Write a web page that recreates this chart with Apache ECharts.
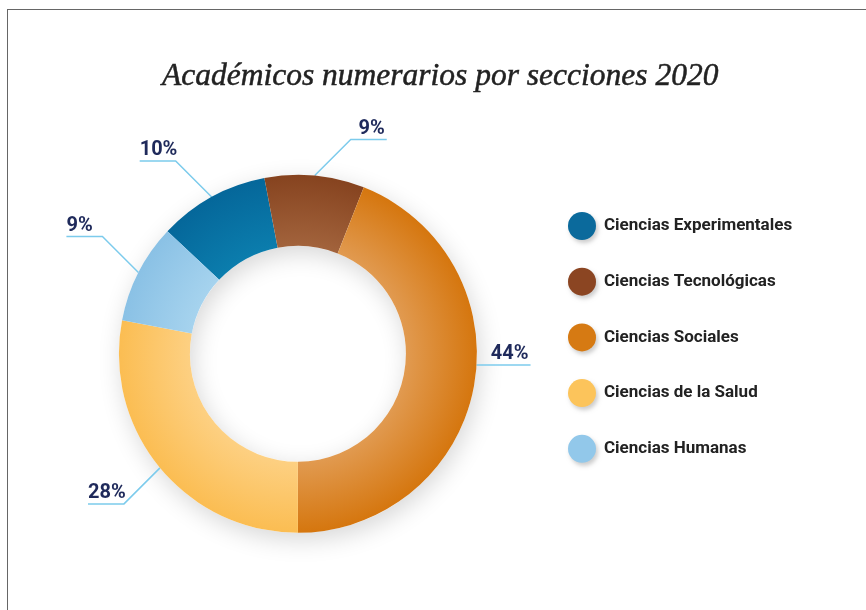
<!DOCTYPE html>
<html>
<head>
<meta charset="utf-8">
<script src="https://cdn.jsdelivr.net/npm/echarts@6/dist/echarts.min.js"></script>
<style>
  html, body { margin: 0; padding: 0; background: #fff; }
  #wrap { position: relative; width: 866px; height: 610px; overflow: hidden; }
  #main { width: 866px; height: 610px; }
  #frame { position: absolute; left: 7px; top: 9px; right: -10px; bottom: -10px;
           border-top: 1.5px solid #666; border-left: 1.5px solid #666; pointer-events: none; }
</style>
</head>
<body>
<div id="wrap">
  <div id="main"></div>
  <div id="frame"></div>
</div>
<script>
// datos
var secciones = ['Ciencias Experimentales', 'Ciencias Tecnológicas', 'Ciencias Sociales', 'Ciencias de la Salud', 'Ciencias Humanas'];
var porcentajes = [10, 9, 44, 28, 9];
var coloresLeyenda = ['#0b6a9c', '#8b4522', '#d67a13', '#fcc45b', '#92c8ea'];
var coloresInterior = ['#0b7dad', '#a2633c', '#e19a50', '#fdd082', '#a6d3ee'];
var coloresExterior = ['#05679a', '#86431f', '#d5760e', '#fbbd52', '#8ac1e5'];

var chartDom = document.getElementById('main');
var myChart = echarts.init(chartDom);

var centro = ['34.4%', '58%'];
var radio = [108, 179];
var cx = myChart.getWidth() * 0.344;
var cy = myChart.getHeight() * 0.58;

var datos = secciones.map(function (s, i) {
    return {
        name: s,
        value: porcentajes[i],
        itemStyle: {
            color: {
                type: 'radial', x: cx, y: cy, r: radio[1], global: true,
                colorStops: [
                    { offset: 0, color: coloresInterior[i] },
                    { offset: radio[0] / radio[1], color: coloresInterior[i] },
                    { offset: 1, color: coloresExterior[i] }
                ]
            }
        }
    };
});

// lineas de etiqueta: tramo a 45 grados y luego horizontal
function colocarEtiqueta(p) {
    var pts = p.labelLinePoints;
    if (!pts) return {};
    var a = pts[0], b = pts[1];
    var dx = b[0] - a[0], dy = b[1] - a[1];
    var len = Math.sqrt(dx * dx + dy * dy) || 1;
    var ux = dx / len, uy = dy / len;
    var sx = ux < 0 ? -1 : 1;
    var p0, p1, p2;
    if (Math.abs(uy) < 0.25) {
        var ccx = a[0] - ux * radio[1], ccy = a[1] - uy * radio[1];
        var y = ccy + (a[1] - ccy) / 3;
        var x = ccx + sx * Math.sqrt(radio[1] * radio[1] - (y - ccy) * (y - ccy));
        p0 = [x, y]; p1 = [x, y]; p2 = [x + sx * 54, y];
    } else {
        var sy = uy < 0 ? -1 : 1;
        p0 = a;
        p1 = [a[0] + sx * 36, a[1] + sy * 36];
        p2 = [p1[0] + sx * 36, p1[1]];
    }
    return {
        x: sx > 0 ? p2[0] - 2 : p2[0],
        y: p2[1] - 1,
        align: sx > 0 ? 'right' : 'left',
        verticalAlign: 'bottom',
        labelLinePoints: [p0, p1, p2]
    };
}

var option = {
    animation: false,
    title: {
        text: 'Académicos numerarios por secciones 2020',
        left: 157,
        top: 56,
        padding: 5,
        textStyle: {
            fontFamily: 'Liberation Serif',
            fontStyle: 'italic',
            fontWeight: 'normal',
            fontSize: 31.5,
            color: '#222',
            textBorderColor: '#222',
            textBorderWidth: 0.5
        }
    },
    legend: {
        orient: 'vertical',
        left: 568,
        top: 212,
        padding: 0,
        icon: 'circle',
        itemWidth: 28,
        itemHeight: 28,
        itemGap: 27.7,
        selectedMode: false,
        itemStyle: {
            shadowBlur: 4,
            shadowColor: 'rgba(0,0,0,0.2)',
            shadowOffsetX: 2,
            shadowOffsetY: 3
        },
        textStyle: {
            fontFamily: 'Roboto',
            fontWeight: 'bold',
            fontSize: 17,
            color: '#222',
            padding: [0, 0, 0, 3]
        },
        data: secciones.map(function (s, i) {
            return { name: s, itemStyle: { color: coloresLeyenda[i] } };
        })
    },
    series: [
        {
            // sombra del anillo
            type: 'pie',
            silent: true,
            center: centro,
            radius: radio,
            z: 1,
            label: { show: false },
            labelLine: { show: false },
            itemStyle: {
                color: '#fff',
                shadowBlur: 24,
                shadowColor: 'rgba(0,0,0,0.16)',
                shadowOffsetX: 3,
                shadowOffsetY: 7
            },
            data: [{ name: 'sombra', value: 1 }]
        },
        {
            name: 'Secciones',
            type: 'pie',
            center: centro,
            radius: radio,
            z: 2,
            startAngle: 136.8,
            clockwise: true,
            avoidLabelOverlap: false,
            emphasis: { disabled: true },
            label: {
                show: true,
                position: 'outside',
                formatter: '{c}%',
                fontFamily: 'Roboto',
                fontWeight: 'bold',
                fontSize: 20,
                color: '#1f2a5b'
            },
            labelLine: {
                show: true,
                length: 20,
                length2: 20,
                lineStyle: { color: '#7ccbec', width: 1.5 }
            },
            labelLayout: colocarEtiqueta,
            data: datos
        }
    ]
};

myChart.setOption(option);
</script>
</body>
</html>
